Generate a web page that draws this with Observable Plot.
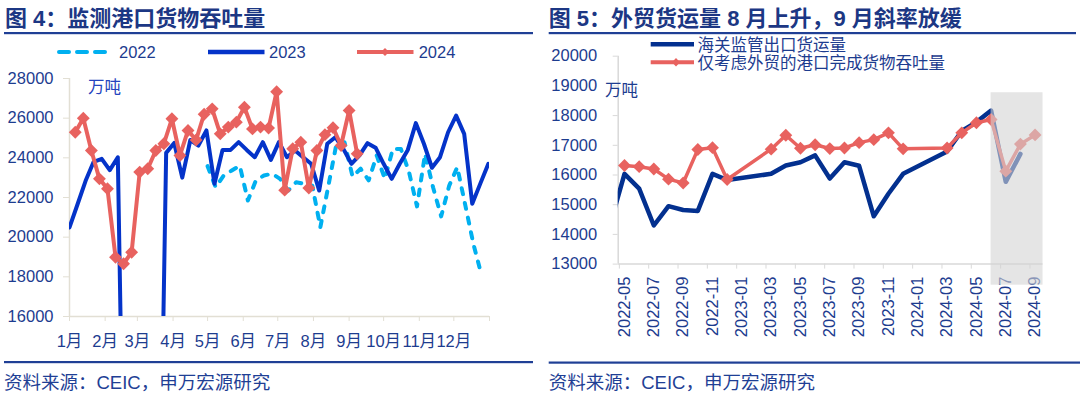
<!DOCTYPE html>
<html>
<head>
<meta charset="utf-8">
<script src="https://cdn.jsdelivr.net/npm/d3@7"></script>
<script src="https://cdn.jsdelivr.net/npm/@observablehq/plot@0.6"></script>
<style>
  html,body{margin:0;padding:0;background:#fff;}
  #root{position:relative;width:1080px;height:396px;overflow:hidden;font-family:"Liberation Sans","Noto Sans CJK SC",sans-serif;}
  .plot{position:absolute;}
  #overlay{position:absolute;left:0;top:0;pointer-events:none;}
</style>
</head>
<body>
<div id="root">
  <div id="leftPlot" class="plot" style="left:0px;top:60px"></div>
  <div id="rightPlot" class="plot" style="left:540px;top:40px"></div>
  <svg id="overlay" width="1080" height="396" font-family="Liberation Sans, Noto Sans CJK SC, sans-serif">
    <!-- titles -->
    <text x="5" y="26.3" font-size="22" font-weight="bold" fill="#1c3784">图 4：监测港口货物吞吐量</text>
    <text x="548.7" y="26.3" font-size="22" font-weight="bold" fill="#1c3784">图 5：外贸货运量 8 月上升，9 月斜率放缓</text>
    <rect x="4" y="32" width="529" height="2.2" fill="#1f3f95"/>
    <rect x="548.7" y="32" width="527.3" height="2.2" fill="#1f3f95"/>
    <!-- left legend -->
    <line x1="59" y1="52" x2="112" y2="52" stroke="#00b0f0" stroke-width="4" stroke-dasharray="10,8" stroke-linecap="round"/>
    <text x="119" y="57.9" font-size="16.5" fill="#1d3c8f">2022</text>
    <line x1="208" y1="52" x2="264.5" y2="52" stroke="#0433c9" stroke-width="4.5"/>
    <text x="269" y="57.9" font-size="16.5" fill="#1d3c8f">2023</text>
    <line x1="357" y1="52" x2="413.5" y2="52" stroke="#e8625f" stroke-width="4"/>
    <path d="M385,48 L389,52 L385,56 L381,52 Z" fill="#e8625f"/>
    <text x="418.7" y="57.9" font-size="16.5" fill="#1d3c8f">2024</text>
    <!-- right legend -->
    <line x1="650.7" y1="44.3" x2="694" y2="44.3" stroke="#03308f" stroke-width="4.5"/>
    <text x="697.4" y="51.1" font-size="16.5" fill="#1d3c8f">海关监管出口货运量</text>
    <line x1="650.7" y1="62.3" x2="694" y2="62.3" stroke="#e8625f" stroke-width="4"/>
    <path d="M676,58 L680,62.3 L676,66.6 L672,62.3 Z" fill="#e8625f"/>
    <text x="697.4" y="69.4" font-size="16.5" fill="#1d3c8f">仅考虑外贸的港口完成货物吞吐量</text>
    <!-- units -->
    <text x="88" y="92.9" font-size="16.5" fill="#2544be">万吨</text>
    <text x="605" y="96.4" font-size="16.5" fill="#1d3c8f">万吨</text>
    <!-- footer -->
    <rect x="4" y="361" width="529" height="2.2" fill="#1f3f95"/>
    <rect x="548.7" y="361.5" width="531.3" height="2.2" fill="#1f3f95"/>
    <text x="4" y="388.7" font-size="18.5" fill="#1f3f95">资料来源：CEIC，申万宏源研究</text>
    <text x="548.7" y="388.7" font-size="18.5" fill="#1f3f95">资料来源：CEIC，申万宏源研究</text>
  </svg>
</div>
<script>
// ---------------- Left chart data (weekly port throughput, 万吨) ----------------
const monthLabels = ["1月","2月","3月","4月","5月","6月","7月","8月","9月","10月","11月","12月"];
const monthStartDays = [0,31,59,90,120,151,181,212,243,273,304,334,365];
const leftYTicks = [16000,18000,20000,22000,24000,26000,28000];

const start2022 = "2022-05-01";
const values2022 = [23580,22520,23110,23360,23600,21850,22860,23110,23200,22940,22350,22770,22690,22600,20500,22600,24710,24790,23050,23450,22860,24120,22940,24450,24450,23300,21550,24200,22500,21050,22600,23530,21600,19660,18100];

const start2023 = "2023-01-01";
const values2023 = [20490,21660,22840,23800,23950,23380,24030,0,0,0,0,0,24250,24750,23000,24900,24620,25380,22690,24400,24400,24790,24400,24030,24790,23900,24790,24030,24370,24030,23700,22350,24710,25040,24450,23700,24120,24740,24510,23700,22940,23700,24400,25750,24710,23500,24030,25290,26130,25210,21680,22700,23700];

const start2024 = "2024-01-06";
const values2024 = [25290,26000,24370,22940,22440,18990,18660,19240,23280,23450,24370,24710,25970,24120,25380,24900,26200,26470,25210,25550,25800,26550,25460,25550,25500,27330,22370,24460,24790,22480,24370,25170,25520,24620,26390,24200];

// ---------------- Right chart data (monthly, 万吨) ----------------
const customsMonths = ["2022-04","2022-05","2022-06","2022-07","2022-08","2022-09","2022-10","2022-11","2022-12","2023-03","2023-04","2023-05","2023-06","2023-07","2023-08","2023-09","2023-10","2023-11","2023-12","2024-03","2024-04","2024-05","2024-06","2024-07","2024-08"];
const customsValues = [14300,16040,15540,14300,14950,14820,14790,16040,15830,16040,16320,16430,16660,15880,16430,16310,14610,15370,16040,16790,17480,17780,18170,15770,16710];

const portMonths = ["2022-05","2022-06","2022-07","2022-08","2022-09","2022-10","2022-11","2022-12","2023-03","2023-04","2023-05","2023-06","2023-07","2023-08","2023-09","2023-10","2023-11","2023-12","2024-03","2024-04","2024-05","2024-06","2024-07","2024-08","2024-09"];
const portValues = [16320,16280,16200,15860,15730,16860,16920,15850,16870,17340,16900,17020,16890,16910,17090,17190,17420,16880,16910,17420,17760,17870,16130,17040,17350];

const rightXTickLabels = ["2022-05","2022-07","2022-09","2022-11","2023-01","2023-03","2023-05","2023-07","2023-09","2023-11","2024-01","2024-03","2024-05","2024-07","2024-09"];
const rightYTicks = [13000,14000,15000,16000,17000,18000,19000,20000];
const shadeFromMonth = "2024-06";
const shadeTopValue = 18770;
const shadeBottomValue = 12290;

// ---------------- styling ----------------
const FONT = "Liberation Sans, Noto Sans CJK SC, sans-serif";
const TXT = "#1d3c8f";
const C22 = "#00b0f0", C23 = "#0433c9", C24 = "#e8625f", CB = "#03308f";
const AXL = "#e2dfd4", AXR = "#d9d9d9";

// ---------------- build left ----------------
function weekly(start, values) {
  const d0 = d3.timeParse("%Y-%m-%d")(start);
  const off = d3.timeDay.count(d3.timeYear(d0), d0);
  return values.map((v, i) => ({day: off + 7 * i, value: v}));
}
const d22 = weekly(start2022, values2022);
const d23 = weekly(start2023, values2023);
const d24 = weekly(start2024, values2024);

const left = Plot.plot({
  width: 540, height: 300,
  marginLeft: 69, marginRight: 51, marginTop: 18, marginBottom: 44,
  style: {fontFamily: FONT, fontSize: "16.5px", background: "none", overflow: "visible"},
  x: {domain: [0, 365], axis: null},
  y: {domain: [16000, 28000], axis: null},
  marks: [
    Plot.ruleX([0], {y1: 16000, y2: 28000, stroke: AXL, strokeWidth: 1.5}),
    Plot.ruleY([16000], {stroke: AXL, strokeWidth: 1.5}),
    Plot.axisY({ticks: leftYTicks, tickSize: 6, tickPadding: 10, stroke: AXL, fill: TXT, fontSize: 16.5, label: null, tickFormat: d => String(d)}),
    Plot.axisX({ticks: monthStartDays, tickSize: 5, tickPadding: 14, stroke: AXL, fill: TXT, fontSize: 16.5, label: null,
      tickFormat: d => { const k = monthStartDays.indexOf(d); return k >= 0 && k < 12 ? monthLabels[k] : ""; }}),
    Plot.line(d22, {x: "day", y: "value", stroke: C22, strokeWidth: 4, strokeDasharray: "6,9", strokeLinecap: "round", strokeLinejoin: "round", clip: true}),
    Plot.line(d23, {x: "day", y: "value", stroke: C23, strokeWidth: 4, strokeLinejoin: "round", clip: true}),
    Plot.line(d24, {x: "day", y: "value", stroke: C24, strokeWidth: 4, strokeLinejoin: "round", clip: true}),
    Plot.dot(d24, {x: "day", y: "value", symbol: "diamond2", r: 5.8, fill: C24, stroke: "none"})
  ]
});
document.getElementById("leftPlot").appendChild(left);

// ---------------- build right ----------------
const mIndex = s => { const [y, m] = s.split("-").map(Number); return (y - 2022) * 12 + (m - 5); };
const customs = customsMonths.map((s, i) => ({m: mIndex(s), value: customsValues[i]}));
const port = portMonths.map((s, i) => ({m: mIndex(s), value: portValues[i]}));
const xDomR = [-0.43, 28.54];
const shade = [{x1: mIndex(shadeFromMonth), x2: xDomR[1], y1: shadeBottomValue, y2: shadeTopValue}];
const labelByM = new Map(rightXTickLabels.map(s => [mIndex(s), s]));

const right = Plot.plot({
  width: 540, height: 320,
  marginLeft: 77.7, marginRight: 37.5, marginTop: 15.7, marginBottom: 96.4,
  style: {fontFamily: FONT, fontSize: "16.5px", background: "none", overflow: "visible"},
  x: {domain: xDomR, axis: null},
  y: {domain: [13000, 20000], axis: null},
  marks: [
    Plot.ruleX([xDomR[0]], {y1: 13000, y2: 20000, stroke: AXR, strokeWidth: 1.5}),
    Plot.ruleY([13000], {stroke: AXR, strokeWidth: 1.5}),
    Plot.axisY({ticks: rightYTicks, tickSize: 5, tickPadding: 16, stroke: AXR, fill: TXT, fontSize: 16.5, label: null, tickFormat: d => String(d)}),
    Plot.axisX({ticks: rightXTickLabels.map(s => mIndex(s) - 0.35), tickSize: 5, stroke: AXR, label: null, tickFormat: () => ""}),
    Plot.axisX({ticks: rightXTickLabels.map(mIndex), tickSize: 0, tickPadding: 12.5, tickRotate: -90, textAnchor: "end", lineAnchor: "middle",
      fill: TXT, fontSize: 16.5, label: null, tickFormat: m => labelByM.get(m) ?? ""}),
    Plot.line(customs, {x: "m", y: "value", stroke: CB, strokeWidth: 4.5, strokeLinejoin: "round", clip: true}),
    Plot.line(port, {x: "m", y: "value", stroke: C24, strokeWidth: 3.5, strokeLinejoin: "round", clip: true}),
    Plot.dot(port, {x: "m", y: "value", symbol: "diamond2", r: 5.8, fill: C24, stroke: "none"}),
    Plot.rect(shade, {x1: "x1", x2: "x2", y1: "y1", y2: "y2", fill: "#d4d4d4", fillOpacity: 0.6})
  ]
});
document.getElementById("rightPlot").appendChild(right);
</script>
</body>
</html>
